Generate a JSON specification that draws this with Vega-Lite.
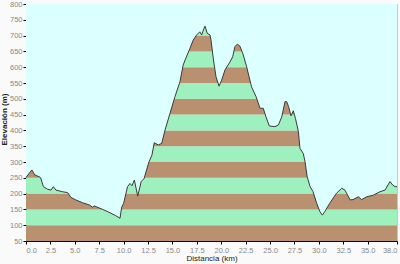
{
  "$schema": "https://vega.github.io/schema/vega-lite/v6.json",
  "width": 371,
  "height": 237,
  "autosize": {"type": "none"},
  "padding": {"left": 26, "top": 4, "right": 3, "bottom": 23},
  "background": "#fafafa",
  "config": {
    "view": {"stroke": "#c8c8c8", "fill": "#dcffff"},
    "font": "Liberation Sans"
  },
  "datasets": {
    "bands": [
      {"lo": 50, "hi": 100, "c": "b"},
      {"lo": 100, "hi": 150, "c": "g"},
      {"lo": 150, "hi": 200, "c": "b"},
      {"lo": 200, "hi": 250, "c": "g"},
      {"lo": 250, "hi": 300, "c": "b"},
      {"lo": 300, "hi": 350, "c": "g"},
      {"lo": 350, "hi": 400, "c": "b"},
      {"lo": 400, "hi": 450, "c": "g"},
      {"lo": 450, "hi": 500, "c": "b"},
      {"lo": 500, "hi": 550, "c": "g"},
      {"lo": 550, "hi": 600, "c": "b"},
      {"lo": 600, "hi": 650, "c": "g"},
      {"lo": 650, "hi": 700, "c": "b"},
      {"lo": 700, "hi": 750, "c": "g"}
    ],
    "profile": [
      {"km": 0.0, "elev": 251},
      {"km": 0.6, "elev": 275},
      {"km": 0.9, "elev": 259},
      {"km": 1.37, "elev": 253},
      {"km": 1.5, "elev": 250},
      {"km": 1.78, "elev": 222},
      {"km": 2.2, "elev": 214},
      {"km": 2.56, "elev": 211},
      {"km": 2.8, "elev": 222},
      {"km": 3.07, "elev": 211},
      {"km": 3.75, "elev": 206},
      {"km": 4.27, "elev": 203},
      {"km": 4.6, "elev": 188},
      {"km": 5.1, "elev": 180},
      {"km": 5.8, "elev": 171},
      {"km": 6.5, "elev": 164},
      {"km": 6.8, "elev": 157},
      {"km": 7.0, "elev": 161},
      {"km": 7.85, "elev": 150},
      {"km": 8.5, "elev": 141},
      {"km": 9.2, "elev": 130},
      {"km": 9.63, "elev": 122},
      {"km": 9.8, "elev": 157},
      {"km": 10.0, "elev": 169},
      {"km": 10.4, "elev": 222},
      {"km": 10.65, "elev": 232},
      {"km": 10.86, "elev": 225},
      {"km": 11.1, "elev": 243},
      {"km": 11.44, "elev": 192},
      {"km": 11.8, "elev": 238},
      {"km": 12.1, "elev": 248},
      {"km": 12.35, "elev": 275},
      {"km": 12.6, "elev": 301},
      {"km": 12.9, "elev": 322},
      {"km": 13.14, "elev": 361},
      {"km": 13.55, "elev": 354},
      {"km": 13.9, "elev": 359},
      {"km": 14.24, "elev": 401},
      {"km": 14.75, "elev": 454},
      {"km": 15.26, "elev": 507},
      {"km": 15.77, "elev": 554},
      {"km": 16.1, "elev": 607},
      {"km": 16.3, "elev": 623},
      {"km": 16.8, "elev": 660},
      {"km": 17.13, "elev": 686},
      {"km": 17.48, "elev": 702},
      {"km": 17.8, "elev": 712},
      {"km": 17.99, "elev": 702},
      {"km": 18.1, "elev": 712},
      {"km": 18.33, "elev": 730},
      {"km": 18.57, "elev": 707},
      {"km": 18.85, "elev": 702},
      {"km": 18.95, "elev": 686},
      {"km": 19.2, "elev": 623},
      {"km": 19.46, "elev": 570},
      {"km": 19.77, "elev": 540},
      {"km": 20.04, "elev": 559},
      {"km": 20.38, "elev": 591},
      {"km": 20.9, "elev": 617},
      {"km": 21.17, "elev": 633},
      {"km": 21.4, "elev": 665},
      {"km": 21.64, "elev": 673},
      {"km": 21.9, "elev": 667},
      {"km": 22.2, "elev": 644},
      {"km": 22.6, "elev": 601},
      {"km": 23.1, "elev": 538},
      {"km": 23.56, "elev": 507},
      {"km": 23.97, "elev": 470},
      {"km": 24.3, "elev": 470},
      {"km": 24.58, "elev": 443},
      {"km": 24.92, "elev": 414},
      {"km": 25.5, "elev": 412},
      {"km": 25.85, "elev": 417},
      {"km": 26.2, "elev": 443},
      {"km": 26.53, "elev": 491},
      {"km": 26.7, "elev": 491},
      {"km": 26.9, "elev": 475},
      {"km": 27.14, "elev": 446},
      {"km": 27.38, "elev": 462},
      {"km": 27.6, "elev": 438},
      {"km": 27.9, "elev": 396},
      {"km": 28.06, "elev": 343},
      {"km": 28.4, "elev": 327},
      {"km": 28.58, "elev": 301},
      {"km": 28.8, "elev": 253},
      {"km": 29.1, "elev": 222},
      {"km": 29.4, "elev": 206},
      {"km": 29.78, "elev": 169},
      {"km": 30.1, "elev": 143},
      {"km": 30.35, "elev": 132},
      {"km": 30.6, "elev": 143},
      {"km": 31.1, "elev": 169},
      {"km": 31.8, "elev": 201},
      {"km": 32.34, "elev": 217},
      {"km": 32.67, "elev": 211},
      {"km": 33.2, "elev": 180},
      {"km": 33.5, "elev": 181},
      {"km": 34.04, "elev": 190},
      {"km": 34.38, "elev": 181},
      {"km": 34.9, "elev": 190},
      {"km": 35.57, "elev": 195},
      {"km": 36.26, "elev": 206},
      {"km": 36.77, "elev": 211},
      {"km": 37.28, "elev": 238},
      {"km": 37.56, "elev": 227},
      {"km": 37.8, "elev": 222},
      {"km": 38.0, "elev": 222}
    ]
  },
  "encoding": {
    "x": {
      "field": "km", "type": "quantitative",
      "scale": {"domain": [0, 38], "nice": false},
      "axis": {
        "title": "Distancia  (km)",
        "values": [0, 2.5, 5, 7.5, 10, 12.5, 15, 17.5, 20, 22.5, 25, 27.5, 30, 32.5, 35, 38],
        "format": ".1f",
        "grid": false,
        "domainColor": "#000000",
        "tickColor": "#000000",
        "tickSize": 3,
        "labelFontSize": 7.5,
        "labelColor": "#888888",
        "labelPadding": 2,
        "titleFontSize": 8,
        "titleFontWeight": "normal",
        "titleColor": "#222222",
        "titlePadding": 1
      }
    },
    "y": {
      "type": "quantitative",
      "scale": {"domain": [50, 800], "nice": false, "zero": false},
      "axis": {
        "title": "Elevación (m)",
        "values": [50, 100, 150, 200, 250, 300, 350, 400, 450, 500, 550, 600, 650, 700, 750, 800],
        "grid": false,
        "domainColor": "#000000",
        "tickColor": "#000000",
        "tickSize": 3,
        "labelFontSize": 7.5,
        "labelColor": "#888888",
        "labelPadding": 1,
        "titleFontSize": 8,
        "titleFontWeight": "bold",
        "titleColor": "#222222",
        "titleX": -18,
        "titleY": 115
      }
    }
  },
  "layer": [
    {
      "data": {"name": "bands"},
      "mark": {"type": "rect"},
      "encoding": {
        "y": {"field": "lo", "type": "quantitative"},
        "y2": {"field": "hi"},
        "x": null,
        "color": {
          "field": "c", "type": "nominal",
          "scale": {"domain": ["b", "g"], "range": ["#b99170", "#9ff0bf"]},
          "legend": null
        }
      }
    },
    {
      "data": {"name": "profile"},
      "mark": {"type": "area", "fill": "#dcffff"},
      "encoding": {
        "y": {"field": "elev", "type": "quantitative"},
        "y2": {"datum": 800}
      }
    },
    {
      "data": {"name": "profile"},
      "mark": {"type": "line", "stroke": "#3a3a3a", "strokeWidth": 1},
      "encoding": {
        "y": {"field": "elev", "type": "quantitative"}
      }
    }
  ]
}
